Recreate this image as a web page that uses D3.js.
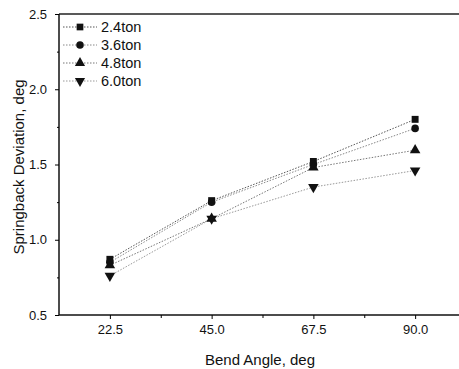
<!DOCTYPE html>
<html><head><meta charset="utf-8">
<script src="https://cdn.jsdelivr.net/npm/d3@7"></script>
<style>body{margin:0;background:#fff}svg{display:block}text{font-family:"Liberation Sans",Arial,sans-serif;fill:#111}</style>
</head><body><svg id="c" width="459" height="369"></svg>
<script>
const angles = [22.5, 45.0, 67.5, 90.0];
const seriesNames = ["2.4ton", "3.6ton", "4.8ton", "6.0ton"];
const s24 = [0.87, 1.26, 1.52, 1.80];
const s36 = [0.85, 1.25, 1.50, 1.74];
const s48 = [0.83, 1.14, 1.48, 1.595];
const s60 = [0.76, 1.14, 1.35, 1.46];
const xTicks = [22.5, 45.0, 67.5, 90.0];
const yTicks = [0.5, 1.0, 1.5, 2.0, 2.5];

const series = [s24, s36, s48, s60];
const symbols = [d3.symbolSquare, d3.symbolCircle, d3.symbolTriangle, "down"];

const svg = d3.select("#c");
const L = 59, T = 14, B = 315;
const x = d3.scaleLinear().domain([11.25, 101.25]).range([L, 466]);
const y = d3.scaleLinear().domain([0.5, 2.5]).range([B, T]);
const FF = "Liberation Sans, Arial, sans-serif";

// frame
svg.append("line").attr("x1", L).attr("x2", 459).attr("y1", T).attr("y2", T).attr("stroke", "#222").attr("stroke-width", 1.5);

// axes
const xAxis = d3.axisBottom(x).tickValues(xTicks).tickFormat(d3.format(".1f")).tickSize(4).tickPadding(6);
const gx = svg.append("g").attr("transform", `translate(0,${B})`).call(xAxis);
gx.select(".domain").attr("d", `M${L},0H459`).attr("stroke", "#111").attr("stroke-width", 1.5);
gx.selectAll("text").attr("font-size", 13).style("font-family", FF);
const xMinor = d3.axisBottom(x).tickValues([33.75, 56.25, 78.75]).tickSize(3).tickFormat("");
svg.append("g").attr("transform", `translate(0,${B})`).call(xMinor).select(".domain").remove();

const yAxis = d3.axisLeft(y).tickValues(yTicks).tickFormat(d3.format(".1f")).tickSize(4).tickPadding(8);
const gy = svg.append("g").attr("transform", `translate(${L},0)`).call(yAxis);
gy.select(".domain").attr("d", `M0,${T}V${B}`).attr("stroke", "#111").attr("stroke-width", 1.5);
gy.selectAll("text").attr("font-size", 13).style("font-family", FF);
const yMinor = d3.axisLeft(y).tickValues([0.75, 1.25, 1.75, 2.25]).tickSize(2).tickFormat("");
svg.append("g").attr("transform", `translate(${L},0)`).call(yMinor).select(".domain").remove();

// titles
svg.append("text").attr("x", 260).attr("y", 365).attr("text-anchor", "middle").attr("font-size", 15).text("Bend Angle, deg");
svg.append("text").attr("transform", "translate(24,167) rotate(-90)").attr("text-anchor", "middle").attr("font-size", 15).text("Springback Deviation, deg");

function drawSym(sel, k, cx, cy, size) {
  const isDown = symbols[k] === "down";
  const t = isDown ? d3.symbolTriangle : symbols[k];
  sel.append("path").attr("d", d3.symbol(t, size)())
    .attr("transform", `translate(${cx},${cy})` + (isDown ? " rotate(180)" : ""))
    .attr("fill", "#111");
}

const line = d3.line().x((d, i) => x(angles[i])).y(d => y(d));
const lineColors = ["#555", "#888", "#777", "#999"];
series.forEach((s, k) => {
  svg.append("path").attr("d", line(s)).attr("fill", "none").attr("stroke", lineColors[k])
    .attr("stroke-width", 1).attr("stroke-dasharray", "1.5,1.5");
});
series.forEach((s, k) => {
  s.forEach((v, i) => drawSym(svg, k, x(angles[i]), y(v), k === 1 ? 45 : 48));
});

// legend
const legY = [27, 45, 63, 81];
seriesNames.forEach((n, k) => {
  svg.append("line").attr("x1", 63).attr("x2", 97).attr("y1", legY[k]).attr("y2", legY[k])
    .attr("stroke", lineColors[k]).attr("stroke-dasharray", "1.5,1.5");
  drawSym(svg, k, 80, legY[k], 45);
  svg.append("text").attr("x", 101).attr("y", legY[k] + 5).attr("font-size", 14.5).text(n);
});
</script></body></html>
